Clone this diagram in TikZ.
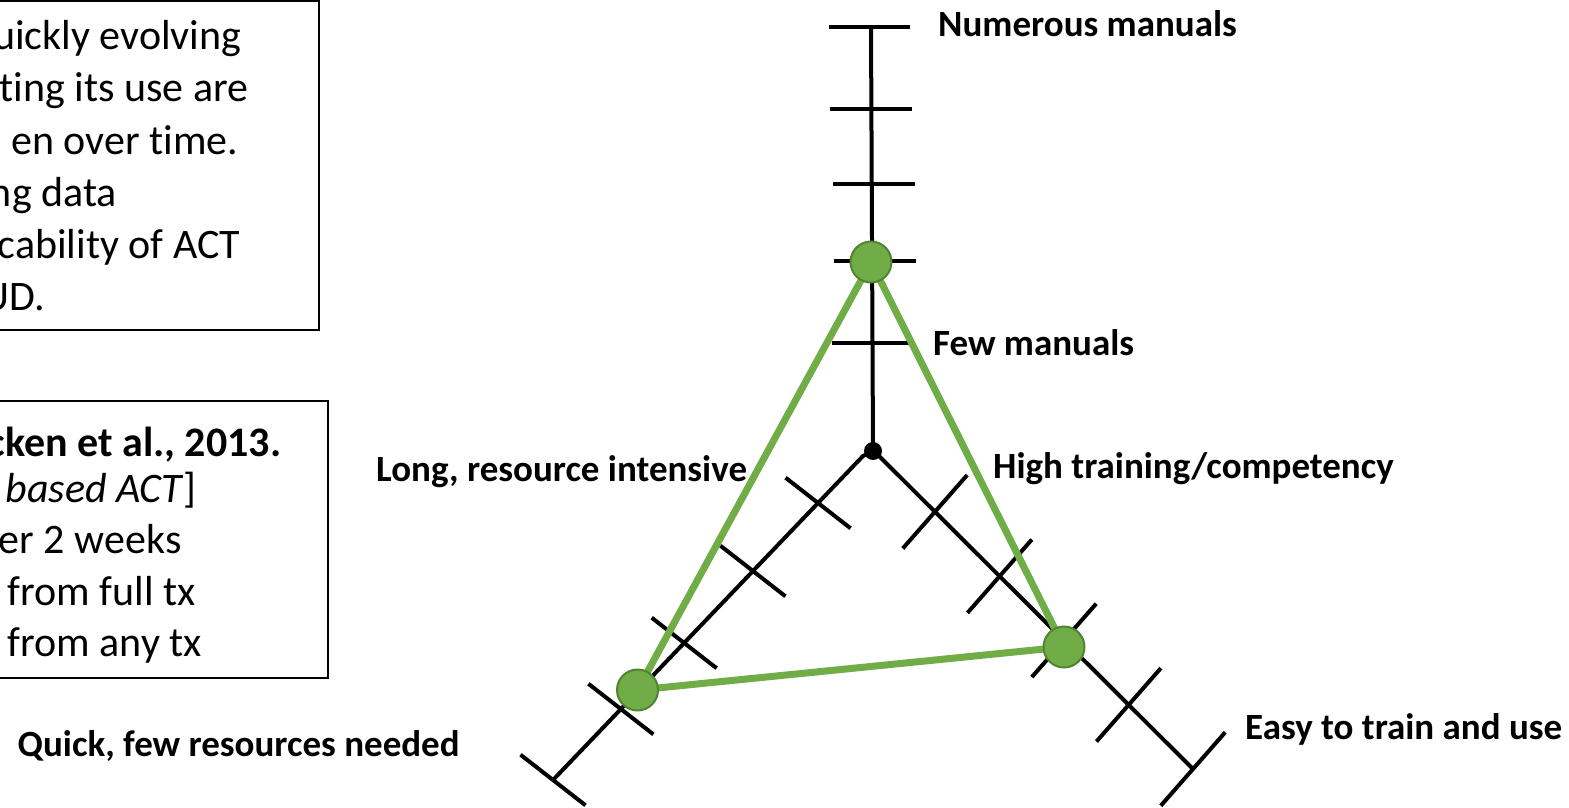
\documentclass[tikz,border=0pt]{standalone}
\usepackage{fontspec}
\setmainfont{Carlito}[Ligatures=NoCommon]
\usetikzlibrary{calc}
\definecolor{ratinggreen}{HTML}{70AD47}
\definecolor{ratingedge}{HTML}{548235}
\begin{document}
\begin{tikzpicture}[x=1pt,y=-1pt,
  axisline/.style={line width=4pt, black},
  tickmark/.style={line width=4pt, black},
  rating/.style={line width=7pt, ratinggreen},
  ratingdot/.style={circle, fill=ratinggreen, draw=ratingedge, line width=2pt, minimum size=41pt, inner sep=0pt},
  pole/.style={font=\fontsize{37}{44}\selectfont\bfseries, inner sep=0pt, anchor=base west},
  body/.style={font=\fontsize{42}{50}\selectfont, inner sep=0pt, anchor=base east},
  panel/.style={draw, line width=2pt}]
\useasboundingbox (0,0) rectangle (1569,808);

% text panels on the left, cut by the page edge
\begin{scope}
  \clip (0,0) rectangle (1569,808);
  \draw[panel] (-20,1) rectangle (319,330);
  \node[body] (a1) at (241.5,50) {uickly evolving};
  \node[body] (a2) at (248.5,102) {ting its use are};
  \node[body] (a3) at (238.5,154) {en over time.};
  \node[body] (a4) at (117,206) {ng data};
  \node[body] (a5) at (240.5,258) {cability of ACT};
  \node[body] (a6) at (45,310) {UD.};

  \draw[panel] (-20,401) rectangle (328,678);
  \node[body,font=\fontsize{42}{50}\selectfont\bfseries] (b1) at (281.5,456) {cken et al., 2013.};
  \node[body] (b2) at (197,502) {\textit{based ACT}]};
  \node[body] (b3) at (181.5,553) {er 2 weeks};
  \node[body] (b4) at (196,605) {from full tx};
  \node[body] (b5) at (202,656) {from any tx};
\end{scope}

% axes
\coordinate (O) at (873,451);
\coordinate (T) at (871,27);
\coordinate (Ls) at (863,456);
\coordinate (L) at (553,780);
\coordinate (Rs) at (876,453);
\coordinate (R) at (1193,769);
\draw[axisline] (O) -- (T);
\draw[axisline] (O) -- (Ls) -- (L);
\draw[axisline] (O) -- (Rs) -- (R);

% ticks on the vertical axis
\foreach \y/\a/\b in {27/829/910, 109/830/912, 184/833/915, 261/834/916, 343/832/914}
  \draw[tickmark] (\a,\y) -- (\b,\y);
% ticks on the lower-left axis
\foreach \t in {0.145,0.355,0.577,0.781,1.0}
  \draw[tickmark] ($(Ls)!\t!(L)$) ++(-32.5,-25.3) -- ++(65,50.6);
% ticks on the lower-right axis
\foreach \t in {0.186,0.39,0.593,0.797,1.0}
  \draw[tickmark] ($(Rs)!\t!(R)$) ++(32.2,-36.7) -- ++(-64.4,73.4);

\fill (O) circle (9);

% rated profile
\coordinate (c1) at (871,262);
\coordinate (c2) at (637.5,690);
\coordinate (c3) at (1064,647);
\draw[rating] (c1) -- (c2);
\draw[rating] (c1) -- (c3);
\draw[rating] (c2) -- (c3);
\node[ratingdot] (p1) at (c1) {};
\node[ratingdot] (p2) at (c2) {};
\node[ratingdot] (p3) at (c3) {};

% pole labels
\node[pole] (n1) at (938,37) {Numerous manuals};
\node[pole] (n2) at (933,355) {Few manuals};
\node[pole] (n3) at (993,478) {High training/competency};
\node[pole] (n4) at (376,481) {Long, resource intensive};
\node[pole,anchor=base east] (n5) at (460,756) {Quick, few resources needed};
\node[pole] (n6) at (1245,739) {Easy to train and use};
\end{tikzpicture}
\end{document}
